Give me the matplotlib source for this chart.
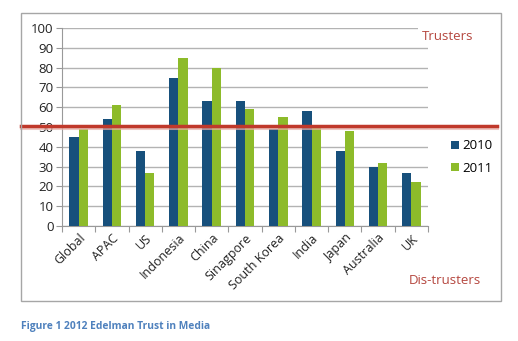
import matplotlib
matplotlib.use("Agg")
import matplotlib.pyplot as plt
import numpy as np
from matplotlib.patches import Rectangle
from matplotlib.lines import Line2D
import matplotlib.transforms as mtransforms

categories = ["Global", "APAC", "US", "Indonesia", "China", "Sinagpore",
              "South Korea", "India", "Japan", "Australia", "UK"]
series_2010 = [45, 54, 38, 75, 63, 63, 49, 58, 38, 30, 27]
series_2011 = [49, 61, 27, 85, 80, 59, 55, 50, 48, 32, 22]
y_ticks = [0, 10, 20, 30, 40, 50, 60, 70, 80, 90, 100]
threshold = 50.3

plt.rcParams['font.family'] = ['Open Sans', 'DejaVu Sans']

W, H = 518, 341
fig = plt.figure(figsize=(W / 100, H / 100), dpi=100)
fig.patch.set_facecolor("white")

# outer chart box
fig.patches.append(Rectangle((21 / W, 1 - 301 / H), (501 - 21) / W, (301 - 13) / H,
                             transform=fig.transFigure, fill=False,
                             edgecolor="#a6a6a6", linewidth=1.0, zorder=0))

ax = fig.add_axes([62 / W, 1 - 226 / H, (428 - 62) / W, (226 - 28) / H])
x = np.arange(len(categories))
bw = 0.28
blue = "#17507c"
green = "#8dbb2a"
ax.bar(x - bw / 2, series_2010, width=bw, color=blue, label="2010", zorder=3)
ax.bar(x + bw / 2, series_2011, width=bw, color=green, label="2011", zorder=3)

ax.set_xlim(-0.5, len(categories) - 0.5)
ax.set_ylim(0, 100)
ax.set_yticks(y_ticks)
ax.set_yticklabels([str(v) for v in y_ticks], fontsize=9.5, color="#222222")
ax.yaxis.grid(True, color="#b3b3b3", linewidth=1.0, zorder=0)
ax.set_axisbelow(True)
for s in ["top", "right"]:
    ax.spines[s].set_visible(False)
ax.spines["left"].set_color("#999999")
ax.spines["bottom"].set_color("#999999")
ax.tick_params(axis="y", length=4, color="#999999", pad=2)
ax.set_xticks(np.arange(len(categories) + 1) - 0.5, minor=False)
ax.set_xticklabels([""] * (len(categories) + 1))
ax.tick_params(axis="x", length=4, color="#999999")
ax.set_xticks(x, minor=True)
ax.set_xticklabels(categories, minor=True, rotation=45, ha="right",
                   rotation_mode="anchor", fontsize=9, color="#222222")
ax.tick_params(axis="x", which="minor", length=0, pad=4)

# threshold line spanning the chart box
trans = mtransforms.blended_transform_factory(fig.transFigure, ax.transData)
shadow = Line2D([21 / W, 497 / W], [threshold - 1.0, threshold - 1.0], transform=trans,
                color="#e8b0a8", linewidth=2.2, clip_on=False, zorder=5, alpha=0.7)
ax.add_line(shadow)
red = Line2D([21 / W, 497 / W], [threshold, threshold], transform=trans,
             color="#c0392b", linewidth=2.5, clip_on=False, zorder=6)
ax.add_line(red)

# label boxes
fig.text(448 / W, 1 - 36 / H, "Trusters", color="#b5473f", fontsize=9.5,
         ha="center", va="center",
         bbox=dict(facecolor="white", edgecolor="none", pad=3))
fig.text(445 / W, 1 - 280 / H, "Dis-trusters", color="#b5473f", fontsize=9.5,
         ha="center", va="center")

leg = ax.legend(loc="center left", bbox_to_anchor=(444 / W, 1 - 157 / H),
                bbox_transform=fig.transFigure, frameon=False, fontsize=9.5,
                handlelength=0.6, handleheight=0.6, handletextpad=0.3,
                labelspacing=0.7, borderpad=0)

fig.text(21 / W, 1 - 326 / H, "Figure 1 2012 Edelman Trust in Media", color="#4f81bd",
         fontsize=7.4, fontweight="bold", ha="left", va="center")

fig.savefig("out.png", dpi=100, facecolor="white")
